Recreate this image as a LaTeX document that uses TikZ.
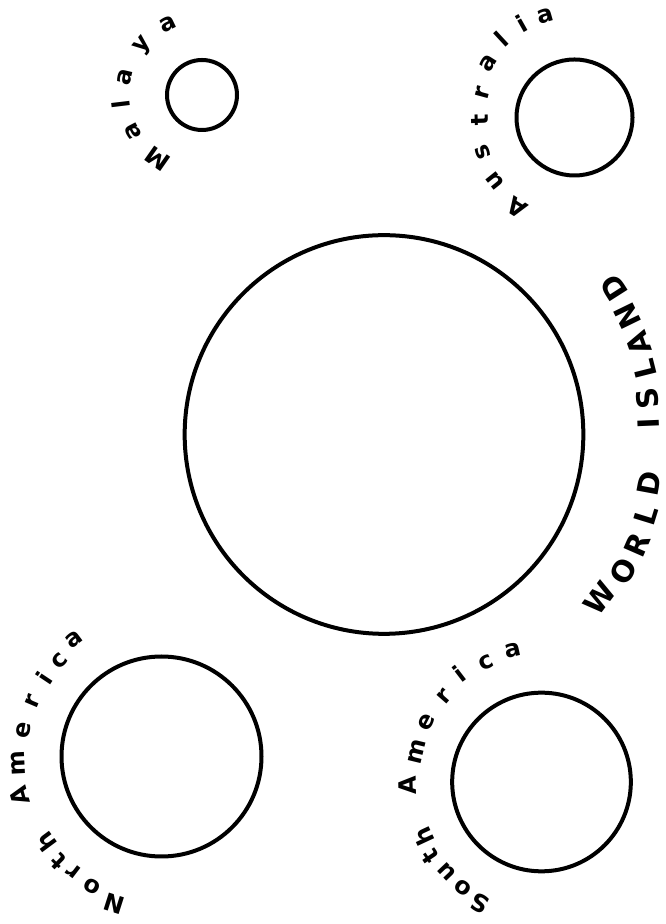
\documentclass[tikz,border=0pt]{standalone}
\usepackage{fontspec}
\setmainfont{DejaVu Sans}
\begin{document}
\begin{tikzpicture}[x=0.75pt,y=0.75pt,
  land/.style={circle,draw,line width=3pt,inner sep=0pt,outer sep=0pt},
  lab/.style={inner sep=0pt,font=\fontsize{18}{18}\selectfont\bfseries},
  caplab/.style={inner sep=0pt,font=\fontsize{22}{22}\selectfont\bfseries}]
\useasboundingbox (0,0) rectangle (666,924);
% continents
\node[land,minimum size=52.5pt] (malaya) at (202,829) {};
\node[land,minimum size=87pt] (australia) at (574.5,806.5) {};
\node[land,minimum size=299pt] (world) at (384,489.5) {};
\node[land,minimum size=150pt] (namerica) at (161.5,167.5) {};
\node[land,minimum size=134pt] (samerica) at (541.5,142) {};
% Malaya
\foreach \a/\r/\t [count=\i] in {235/78/M,207.5/78/a,186.9/82/l,166.8/79/a,139.8/76/y,115.6/79/a}
  \node[lab,rotate=\a-90] (mal\i) at ([shift={(\a:\r)}]malaya.center) {\t};
% Australia
\foreach \a/\r/\t [count=\i] in {237.2/107/A,218.7/102/u,200.8/98/s,181.8/95/t,164.8/95/r,147.9/102/a,132.8/107/l,119.4/108/i,105.9/106/a}
  \node[lab,rotate=\a-90] (aus\i) at ([shift={(\a:\r)}]australia.center) {\t};
% North America
\foreach \a/\r/\t [count=\i] in {252.3/155/N,242/147/o,232.6/145/r,225.6/147/t,216.6/144/h,195.4/147/A,182.8/144/m,169.3/140/e,156.9/140/r,146.3/141/i,136.7/140/c,127/146/a}
  \node[lab,rotate=\a-90] (na\i) at ([shift={(\a:\r)}]namerica.center) {\t};
% South America
\foreach \a/\r/\t [count=\i] in {242.9/136/S,233.3/132/o,223.5/131/u,213.8/134/t,205/130/h,181.3/134/A,166.4/128/m,152.4/130/e,138.8/129/r,127.4/136/i,115/132/c,102.4/135/a}
  \node[lab,rotate=\a-90] (sa\i) at ([shift={(\a:\r)}]samerica.center) {\t};
% World Island
\foreach \a/\r/\t [count=\i] in {-37.2/271/W,-29.8/276/O,-23.6/276/R,-17.1/274/L,-10.5/270/D,2.4/265/I,7.8/266/S,14.1/269/L,19.7/270/A,26/271/N,32.5/273/D}
  \node[caplab,rotate=\a+90] (wi\i) at ([shift={(\a:\r)}]world.center) {\t};
\end{tikzpicture}
\end{document}
